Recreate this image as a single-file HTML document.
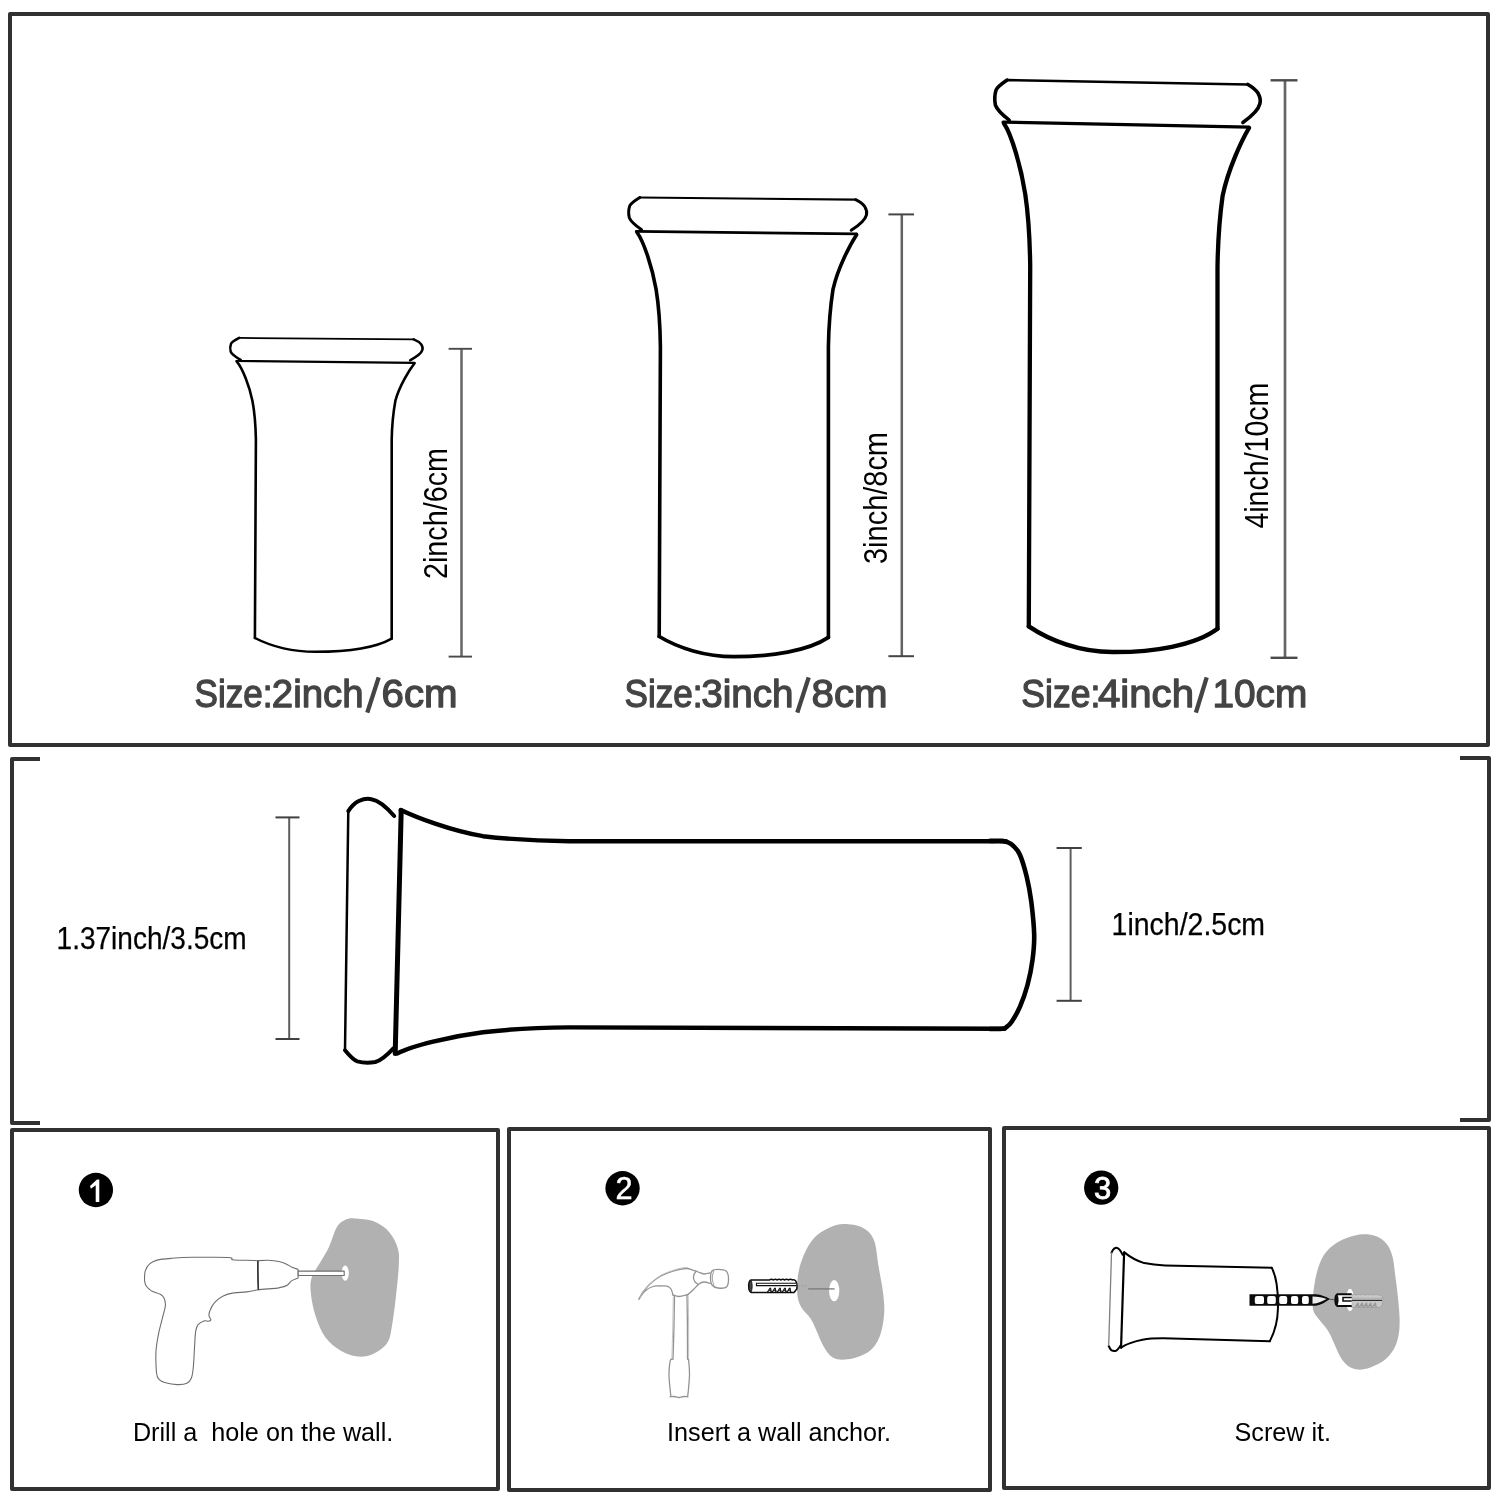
<!DOCTYPE html>
<html lang="en">
<head>
<meta charset="utf-8">
<title>Hook size and installation diagram</title>
<style>
html,body{margin:0;padding:0;background:#fff;}
body{width:1500px;height:1500px;overflow:hidden;font-family:"Liberation Sans", sans-serif;}
svg{display:block;font-family:"Liberation Sans", sans-serif;will-change:transform;}
</style>
</head>
<body>
<svg width="1500" height="1500" viewBox="0 0 1500 1500">
<rect width="1500" height="1500" fill="#fff"/>
<g fill="none" stroke="#313131" stroke-width="4" stroke-linejoin="round">
<rect x="10" y="14" width="1478" height="731"/>
<path d="M40,759 H12 V1123 H40"/>
<path d="M1460,758 H1489 V1120 H1460"/>
<rect x="12" y="1130" width="486" height="359"/>
<rect x="509" y="1129" width="481" height="361"/>
<rect x="1004" y="1128" width="485" height="360"/>
</g>
<path d="M 240.7,359.9 C 236.4,357.4 231.9,354.4 230.7,351.7 C 230.1,349.4 230.1,345.9 231.1,343.5 C 231.9,341.9 234.4,340.4 239.2,337.9" fill="none" stroke="#000" stroke-width="2.5" stroke-linecap="round" stroke-linejoin="round"/>
<path d="M 239.2,337.9 L 413.7,339.4" fill="none" stroke="#000" stroke-width="1.8" stroke-linecap="round" stroke-linejoin="round"/>
<path d="M 413.7,339.4 C 417.4,340.9 419.9,342.7 421.1,344.2 C 422.7,346.4 422.9,348.4 422.4,349.9 C 421.4,353.4 416.4,356.9 410.1,360.3" fill="none" stroke="#000" stroke-width="2.5" stroke-linecap="round" stroke-linejoin="round"/>
<path d="M 236.3,361.0 L 414.5,362.8" fill="none" stroke="#000" stroke-width="2.2" stroke-linecap="round" stroke-linejoin="round"/>
<path d="M 237.0,361.8 C 242.4,367.9 249.4,385.9 252.4,400.7 C 254.2,409.9 255.7,427.9 255.9,439.9 L 254.9,638.0" fill="none" stroke="#000" stroke-width="2.6" stroke-linecap="round" stroke-linejoin="round"/>
<path d="M 414.5,363.3 C 409.4,369.9 399.4,385.9 395.4,400.7 C 393.7,409.9 391.9,427.9 391.7,439.9 L 391.7,638.6" fill="none" stroke="#000" stroke-width="2.6" stroke-linecap="round" stroke-linejoin="round"/>
<path d="M 254.9,638.0 C 270.4,645.9 292.4,651.8 315.4,651.8 C 345.4,651.8 375.4,647.9 391.7,638.6" fill="none" stroke="#000" stroke-width="2.5" stroke-linecap="round" stroke-linejoin="round"/>
<path d="M 641.6,229.7 C 636.3,226.0 630.8,221.6 629.3,217.7 C 628.5,214.3 628.5,209.2 629.8,205.7 C 630.8,203.4 633.8,201.2 639.8,197.5" fill="none" stroke="#000" stroke-width="3.0" stroke-linecap="round" stroke-linejoin="round"/>
<path d="M 639.8,197.5 L 855.6,199.7" fill="none" stroke="#000" stroke-width="2.2" stroke-linecap="round" stroke-linejoin="round"/>
<path d="M 855.6,199.7 C 860.2,201.9 863.3,204.5 864.8,206.7 C 866.8,209.9 867.0,212.9 866.4,215.1 C 865.1,220.2 859.0,225.3 851.2,230.3" fill="none" stroke="#000" stroke-width="3.0" stroke-linecap="round" stroke-linejoin="round"/>
<path d="M 636.2,231.3 L 856.6,233.9" fill="none" stroke="#000" stroke-width="2.8" stroke-linecap="round" stroke-linejoin="round"/>
<path d="M 637.1,232.5 C 643.7,241.4 652.4,267.7 656.1,289.4 C 658.3,302.8 660.2,329.2 660.4,346.7 L 659.2,636.5" fill="none" stroke="#000" stroke-width="3.6" stroke-linecap="round" stroke-linejoin="round"/>
<path d="M 856.6,234.7 C 850.3,244.3 837.9,267.7 833.0,289.4 C 830.9,302.8 828.7,329.2 828.4,346.7 L 828.4,637.4" fill="none" stroke="#000" stroke-width="3.6" stroke-linecap="round" stroke-linejoin="round"/>
<path d="M 659.2,636.5 C 678.4,648.1 705.6,656.7 734.0,656.7 C 771.1,656.7 808.3,651.0 828.4,637.4" fill="none" stroke="#000" stroke-width="3.7" stroke-linecap="round" stroke-linejoin="round"/>
<path d="M 1009.2,120.1 C 1003.3,115.5 997.1,110.0 995.4,105.1 C 994.6,100.9 994.6,94.6 996.0,90.2 C 997.1,87.3 1000.5,84.6 1007.1,80.1" fill="none" stroke="#000" stroke-width="3.6" stroke-linecap="round" stroke-linejoin="round"/>
<path d="M 1007.1,80.1 L 1247.9,84.5" fill="none" stroke="#000" stroke-width="2.6" stroke-linecap="round" stroke-linejoin="round"/>
<path d="M 1247.9,84.5 C 1253.0,87.3 1256.4,90.6 1258.1,93.3 C 1260.3,97.3 1260.6,101.0 1259.9,103.7 C 1258.5,110.1 1251.6,116.4 1242.9,122.5" fill="none" stroke="#000" stroke-width="3.6" stroke-linecap="round" stroke-linejoin="round"/>
<path d="M 1003.1,122.1 L 1249.0,127.1" fill="none" stroke="#000" stroke-width="3.3" stroke-linecap="round" stroke-linejoin="round"/>
<path d="M 1004.1,123.6 C 1011.6,134.7 1021.2,167.5 1025.3,194.5 C 1027.8,211.3 1029.9,244.0 1030.2,265.9 L 1028.8,626.4" fill="none" stroke="#000" stroke-width="4.3" stroke-linecap="round" stroke-linejoin="round"/>
<path d="M 1249.0,128.0 C 1241.9,140.0 1228.1,169.0 1222.6,195.9 C 1220.3,212.6 1217.8,245.4 1217.5,267.2 L 1217.5,628.8" fill="none" stroke="#000" stroke-width="4.3" stroke-linecap="round" stroke-linejoin="round"/>
<path d="M 1028.8,626.4 C 1050.2,640.9 1080.5,651.9 1112.3,652.1 C 1153.6,652.4 1195.0,645.6 1217.5,628.8" fill="none" stroke="#000" stroke-width="4.5" stroke-linecap="round" stroke-linejoin="round"/>
<line x1="461.5" y1="348.8" x2="461.5" y2="656.6" stroke="#666" stroke-width="2.5"/><line x1="448.6" y1="348.8" x2="472" y2="348.8" stroke="#4a4a4a" stroke-width="1.9"/><line x1="448.6" y1="656.6" x2="472" y2="656.6" stroke="#4a4a4a" stroke-width="1.9"/>
<line x1="901.8" y1="214.4" x2="901.8" y2="656.2" stroke="#626262" stroke-width="2.5"/><line x1="888.4" y1="214.4" x2="914" y2="214.4" stroke="#464646" stroke-width="2.0"/><line x1="888.4" y1="656.2" x2="914" y2="656.2" stroke="#464646" stroke-width="2.0"/>
<line x1="1285" y1="80.3" x2="1285" y2="657.8" stroke="#666" stroke-width="2.7"/><line x1="1270.6" y1="80.3" x2="1297.5" y2="80.3" stroke="#4a4a4a" stroke-width="2.4"/><line x1="1270.6" y1="657.8" x2="1297.5" y2="657.8" stroke="#4a4a4a" stroke-width="2.4"/>
<text transform="translate(447,513.5) rotate(-90)" font-size="32.5" text-anchor="middle" textLength="131" lengthAdjust="spacingAndGlyphs" fill="#000">2inch/6cm</text>
<text transform="translate(886.6,498) rotate(-90)" font-size="32.5" text-anchor="middle" textLength="132" lengthAdjust="spacingAndGlyphs" fill="#000">3inch/8cm</text>
<text transform="translate(1268.2,455.6) rotate(-90)" font-size="32.5" text-anchor="middle" textLength="146" lengthAdjust="spacingAndGlyphs" fill="#000">4inch/10cm</text>
<text x="194.6" y="706.6" font-size="39.6" textLength="78" lengthAdjust="spacingAndGlyphs" fill="#444" stroke="#444" stroke-width="1.3" stroke-linejoin="round">Size:</text><text x="271.8" y="706.6" font-size="39.6" textLength="91.8" lengthAdjust="spacingAndGlyphs" fill="#444" stroke="#444" stroke-width="1.3" stroke-linejoin="round">2inch</text><line x1="367.3" y1="712.6" x2="378.7" y2="677.4" stroke="#444" stroke-width="4.3"/><text x="381.5" y="706.6" font-size="39.6" textLength="76.1" lengthAdjust="spacingAndGlyphs" fill="#444" stroke="#444" stroke-width="1.3" stroke-linejoin="round">6cm</text>
<text x="624.6" y="706.6" font-size="39.6" textLength="78" lengthAdjust="spacingAndGlyphs" fill="#444" stroke="#444" stroke-width="1.3" stroke-linejoin="round">Size:</text><text x="701.2" y="706.6" font-size="39.6" textLength="92.4" lengthAdjust="spacingAndGlyphs" fill="#444" stroke="#444" stroke-width="1.3" stroke-linejoin="round">3inch</text><line x1="797.3" y1="712.6" x2="808.7" y2="677.4" stroke="#444" stroke-width="4.3"/><text x="811.5" y="706.6" font-size="39.6" textLength="76.1" lengthAdjust="spacingAndGlyphs" fill="#444" stroke="#444" stroke-width="1.3" stroke-linejoin="round">8cm</text>
<text x="1021.3" y="706.6" font-size="39.6" textLength="79" lengthAdjust="spacingAndGlyphs" fill="#444" stroke="#444" stroke-width="1.3" stroke-linejoin="round">Size:</text><text x="1098" y="706.6" font-size="39.6" textLength="96" lengthAdjust="spacingAndGlyphs" fill="#444" stroke="#444" stroke-width="1.3" stroke-linejoin="round">4inch</text><line x1="1195.9" y1="712.6" x2="1206.7" y2="677.4" stroke="#444" stroke-width="4.3"/><text x="1212.4" y="706.6" font-size="39.6" textLength="94.9" lengthAdjust="spacingAndGlyphs" fill="#444" stroke="#444" stroke-width="1.3" stroke-linejoin="round">10cm</text>
<path d="M 393.4,1048.3 C 387.9,1054.2 381.3,1060.3 375.3,1062.0 C 370.3,1062.8 362.6,1062.8 357.3,1061.4 C 353.8,1060.3 350.5,1056.9 345.0,1050.3" fill="none" stroke="#000" stroke-width="4.0" stroke-linecap="round" stroke-linejoin="round"/>
<path d="M 345.0,1050.3 L 348.3,811.1" fill="none" stroke="#000" stroke-width="2.5" stroke-linecap="round" stroke-linejoin="round"/>
<path d="M 348.3,811.1 C 351.6,806.0 355.6,802.6 358.8,801.0 C 363.7,798.8 368.1,798.5 371.4,799.2 C 379.1,800.5 386.8,807.4 394.2,816.0" fill="none" stroke="#000" stroke-width="4.0" stroke-linecap="round" stroke-linejoin="round"/>
<path d="M395.2,1053.6 L401.2,810.4" fill="none" stroke="#000" stroke-width="5.0" stroke-linecap="round" stroke-linejoin="round"/>
<path d="M 397.5,1053.4 C 410.9,1045.9 450.5,1036.4 483.0,1032.2 C 503.3,1029.8 542.8,1027.7 569.2,1027.4 L 1004.6,1028.8" fill="none" stroke="#000" stroke-width="4.4" stroke-linecap="round" stroke-linejoin="round"/>
<path d="M 400.8,810.0 C 415.3,817.0 450.5,830.7 483.0,836.2 C 503.3,838.5 542.8,841.0 569.2,841.3 L 1005.9,841.3" fill="none" stroke="#000" stroke-width="4.4" stroke-linecap="round" stroke-linejoin="round"/>
<path d="M990.0,840.9 C992.0,840.9 998.7,840.7 1001.7,840.9 C1004.7,841.1 1006.1,841.5 1008.0,842.3 C1009.9,843.1 1011.3,843.7 1013.3,845.8 C1015.3,847.9 1017.8,849.9 1020.0,855.0 C1022.2,860.1 1024.8,868.9 1026.7,876.7 C1028.6,884.5 1030.0,892.0 1031.3,901.7 C1032.5,911.4 1034.0,925.3 1034.2,935.0 C1034.4,944.7 1033.6,951.7 1032.5,960.0 C1031.4,968.3 1029.6,977.2 1027.5,985.0 C1025.4,992.8 1022.6,1000.6 1020.0,1006.7 C1017.4,1012.8 1013.9,1018.4 1011.7,1021.7 C1009.5,1025.0 1008.5,1025.4 1007.0,1026.6 C1005.5,1027.8 1005.3,1028.4 1002.5,1028.8 C999.7,1029.2 992.1,1029.0 990.0,1029.0 " fill="none" stroke="#000" stroke-width="4.6" stroke-linecap="round" stroke-linejoin="round"/>
<line x1="289.2" y1="817.4" x2="289.2" y2="1039" stroke="#5e5e5e" stroke-width="2.0"/><line x1="275.5" y1="817.4" x2="299.5" y2="817.4" stroke="#404040" stroke-width="2.0"/><line x1="275.5" y1="1039" x2="299.5" y2="1039" stroke="#404040" stroke-width="2.0"/>
<line x1="1070.6" y1="848" x2="1070.6" y2="1000.8" stroke="#5e5e5e" stroke-width="2.0"/><line x1="1056.6" y1="848" x2="1081.8" y2="848" stroke="#404040" stroke-width="2.0"/><line x1="1056.6" y1="1000.8" x2="1081.8" y2="1000.8" stroke="#404040" stroke-width="2.0"/>
<text x="56.6" y="949" font-size="31.3" textLength="190" lengthAdjust="spacingAndGlyphs" fill="#000" stroke="#000" stroke-width="0.25">1.37inch/3.5cm</text>
<text x="1111.6" y="934.5" font-size="31.3" textLength="153.5" lengthAdjust="spacingAndGlyphs" fill="#000" stroke="#000" stroke-width="0.25">1inch/2.5cm</text>
<circle cx="95.9" cy="1190" r="17.15" fill="#000"/><path d="M99.3,1179.5 V1202 H95.7 V1185.2 L90.9,1188.8 L90.0,1185.9 L97.0,1179.5 Z" fill="#fff"/>
<circle cx="622.55" cy="1188.25" r="17.15" fill="#000"/><text x="624.0" y="1198.8" font-size="30.7" text-anchor="middle" fill="#fff" stroke="#fff" stroke-width="0.5">2</text>
<circle cx="1101.2" cy="1187.7" r="17.15" fill="#000"/><text x="1102.5" y="1199.3" font-size="31.0" text-anchor="middle" fill="#fff" stroke="#fff" stroke-width="0.8">3</text>
<text x="132.9" y="1441" font-size="25.2" fill="#000" style="white-space:pre">Drill a  hole on the wall.</text>
<text x="667.1" y="1441" font-size="25.2" fill="#000" style="white-space:pre">Insert a wall anchor.</text>
<text x="1234.5" y="1441" font-size="25.2" fill="#000" style="white-space:pre">Screw it.</text>
<path d="M354.3,1218.4 C359.1,1218.6 367.8,1219.0 373.6,1221.3 C379.4,1223.5 385.1,1227.4 389.1,1231.9 C393.1,1236.4 396.2,1242.7 397.8,1248.3 C399.4,1253.9 399.1,1257.6 398.8,1265.7 C398.5,1273.8 397.0,1286.7 395.9,1296.7 C394.8,1306.7 393.4,1318.0 392.0,1325.7 C390.6,1333.4 390.3,1338.4 387.2,1343.1 C384.1,1347.8 378.4,1351.5 373.6,1353.7 C368.8,1356.0 363.7,1357.1 358.2,1356.6 C352.7,1356.1 346.3,1354.0 340.8,1350.8 C335.3,1347.6 329.5,1343.1 325.3,1337.3 C321.1,1331.5 318.0,1323.4 315.6,1316.0 C313.2,1308.6 311.4,1299.2 310.8,1292.8 C310.2,1286.3 310.2,1282.4 311.8,1277.3 C313.4,1272.2 317.6,1267.1 320.5,1261.9 C323.4,1256.8 326.5,1252.2 329.2,1246.4 C331.9,1240.6 334.3,1231.4 336.9,1227.1 C339.5,1222.8 341.7,1221.8 344.6,1220.3 C347.5,1218.8 349.5,1218.2 354.3,1218.4 Z" fill="#b1b1b1"/>
<path d="M844.0,1224.0 C849.6,1224.0 857.7,1225.0 862.7,1227.7 C867.7,1230.4 871.3,1233.5 873.9,1239.9 C876.5,1246.3 877.0,1257.0 878.5,1266.0 C880.0,1275.0 882.3,1285.9 883.2,1294.0 C884.1,1302.1 884.7,1307.3 884.1,1314.5 C883.5,1321.7 882.1,1330.7 879.5,1336.9 C876.9,1343.1 873.6,1348.2 868.3,1351.9 C863.0,1355.6 853.6,1358.4 847.7,1359.3 C841.8,1360.2 836.8,1359.7 832.8,1357.5 C828.8,1355.3 826.3,1351.0 823.5,1346.3 C820.7,1341.6 818.2,1334.2 816.0,1329.5 C813.8,1324.8 812.9,1322.0 810.4,1318.3 C807.9,1314.6 803.3,1311.1 801.1,1307.1 C798.9,1303.0 797.8,1299.6 797.3,1294.0 C796.8,1288.4 797.2,1280.0 798.3,1273.5 C799.4,1267.0 801.3,1260.7 803.9,1254.8 C806.5,1248.9 809.9,1242.5 814.1,1238.0 C818.3,1233.5 824.1,1230.0 829.1,1227.7 C834.1,1225.4 838.4,1224.0 844.0,1224.0 Z" fill="#b1b1b1"/>
<path d="M1362.7,1234.3 C1367.3,1234.2 1373.0,1234.8 1377.0,1236.5 C1381.0,1238.2 1384.3,1240.9 1386.9,1244.2 C1389.5,1247.5 1391.0,1251.2 1392.4,1256.3 C1393.8,1261.4 1394.3,1268.2 1395.2,1275.0 C1396.1,1281.8 1397.2,1289.7 1397.9,1297.0 C1398.6,1304.3 1399.5,1312.6 1399.6,1319.0 C1399.7,1325.4 1399.5,1330.4 1398.5,1335.5 C1397.5,1340.6 1396.0,1345.6 1393.5,1349.8 C1391.0,1354.0 1387.4,1357.9 1383.6,1360.8 C1379.8,1363.7 1374.6,1365.9 1370.4,1367.4 C1366.2,1368.9 1362.0,1369.8 1358.3,1369.6 C1354.6,1369.4 1351.3,1368.3 1348.4,1366.3 C1345.5,1364.3 1343.1,1361.3 1340.7,1357.5 C1338.3,1353.7 1336.3,1347.8 1334.1,1343.2 C1331.9,1338.6 1330.1,1334.0 1327.5,1330.0 C1324.9,1326.0 1321.1,1322.3 1318.7,1319.0 C1316.3,1315.7 1314.2,1313.9 1313.2,1310.2 C1312.2,1306.5 1312.7,1301.8 1313.0,1297.0 C1313.3,1292.2 1314.0,1286.7 1314.9,1281.6 C1315.9,1276.5 1317.0,1271.0 1318.7,1266.2 C1320.4,1261.4 1322.4,1256.8 1325.3,1253.0 C1328.2,1249.2 1332.3,1245.8 1336.3,1243.1 C1340.3,1240.4 1345.1,1238.6 1349.5,1237.1 C1353.9,1235.6 1358.1,1234.4 1362.7,1234.3 Z" fill="#b1b1b1"/>
<ellipse cx="345.2" cy="1273.2" rx="3.6" ry="7.6" fill="#fff"/>
<g fill="#fff" stroke="#6e6e6e" stroke-width="1.1" stroke-linejoin="round">
<path d="M144.5,1280.9 C144.6,1279.3 144.3,1274.2 145.1,1271.3 C146.0,1268.5 147.6,1265.7 149.6,1263.9 C151.6,1262.0 153.3,1261.1 157.1,1260.1 C160.8,1259.2 166.0,1258.8 172.0,1258.3 C178.0,1257.8 186.2,1257.4 193.3,1257.3 C200.4,1257.1 208.4,1257.2 214.7,1257.3 C220.9,1257.3 227.6,1257.3 230.7,1257.7 C233.7,1258.1 230.1,1259.4 232.8,1259.8 C235.5,1260.3 242.5,1260.2 246.7,1260.3 C250.8,1260.5 256.0,1260.6 257.9,1260.7  L258.4,1289.7 C256.4,1290.1 250.8,1291.4 246.7,1291.9 C242.6,1292.5 237.8,1292.2 233.9,1292.9 C230.0,1293.5 226.4,1294.3 223.2,1295.9 C220.0,1297.4 216.9,1299.8 214.7,1302.3 C212.4,1304.8 210.8,1308.5 209.9,1310.8 C208.9,1313.1 208.9,1314.6 209.1,1316.1 C209.3,1317.6 211.1,1319.0 210.9,1319.9 C210.8,1320.7 209.4,1321.1 208.3,1321.3 C207.1,1321.4 205.7,1320.4 204.0,1320.9 C202.3,1321.5 199.5,1323.0 198.1,1324.7 C196.7,1326.4 196.3,1327.5 195.7,1331.1 C195.1,1334.6 195.0,1340.0 194.6,1346.0 C194.2,1352.0 193.9,1362.0 193.3,1367.3 C192.8,1372.7 192.5,1375.3 191.4,1378.0 C190.3,1380.7 189.3,1382.2 186.9,1383.3 C184.6,1384.4 180.9,1384.7 177.3,1384.6 C173.8,1384.5 168.7,1383.7 165.6,1382.8 C162.5,1381.9 160.2,1380.8 158.7,1379.1 C157.2,1377.4 157.0,1377.3 156.5,1372.7 C156.1,1368.0 155.6,1357.9 156.0,1351.3 C156.4,1344.8 157.5,1339.1 158.7,1333.2 C159.8,1327.3 161.8,1320.8 162.9,1316.1 C164.1,1311.5 165.2,1308.5 165.4,1305.5 C165.6,1302.4 164.9,1299.9 164.0,1298.0 C163.1,1296.1 162.3,1295.4 160.3,1294.3 C158.2,1293.1 154.0,1292.4 151.7,1291.1 C149.4,1289.7 147.6,1288.0 146.4,1286.3 C145.2,1284.6 144.8,1281.8 144.5,1280.9  Z"/>
<path d="M257.9,1260.7 C259.6,1260.6 264.5,1260.2 268.0,1260.3 C271.5,1260.5 275.6,1260.9 278.7,1261.5 C281.7,1262.1 284.0,1262.9 286.1,1263.9 C288.3,1264.8 289.5,1266.1 291.5,1267.1 C293.5,1268.0 297.0,1269.0 298.1,1269.4  L298.1,1277.9 C297.0,1278.4 293.3,1279.7 291.5,1280.9 C289.7,1282.1 289.3,1284.0 287.2,1285.2 C285.1,1286.4 281.9,1287.2 278.7,1287.9 C275.5,1288.5 271.4,1288.6 268.0,1288.9 C264.6,1289.2 260.0,1289.6 258.4,1289.7  Z"/>
<rect x="298.2" y="1271.1" width="46" height="4.4"/>
<path d="M257.9,1260.7 C257.7,1270.5 257.9,1280 258.4,1289.7" stroke="#333" stroke-width="1.5" fill="none"/>
</g>
<defs><filter id="b2" x="-10%" y="-10%" width="120%" height="120%"><feGaussianBlur stdDeviation="0.35"/></filter></defs>
<g fill="none" stroke="#939393" stroke-width="1.3" stroke-linejoin="round" stroke-linecap="round" filter="url(#b2)">
<path d="M639.0,1299.0 C639.7,1297.8 641.2,1294.5 643.0,1292.0 C644.8,1289.5 647.2,1286.6 650.0,1284.0 C652.8,1281.4 656.3,1278.6 660.0,1276.5 C663.7,1274.4 668.7,1272.7 672.0,1271.5 C675.3,1270.3 677.5,1269.8 680.0,1269.3 C682.5,1268.8 685.0,1268.4 687.0,1268.5 C689.0,1268.6 690.2,1269.2 692.0,1269.8 C693.8,1270.4 696.0,1271.3 698.0,1272.0 C700.0,1272.7 702.0,1273.8 704.0,1274.0 C706.0,1274.2 709.0,1273.2 710.0,1273.0 "/>
<path d="M639.0,1299.0 C640.0,1297.7 642.7,1293.1 645.0,1291.0 C647.3,1288.9 650.5,1287.3 653.0,1286.5 C655.5,1285.7 657.7,1286.0 660.0,1286.0 C662.3,1286.0 665.2,1285.7 667.0,1286.2 C668.8,1286.7 670.0,1287.5 671.0,1289.0 C672.0,1290.5 672.7,1294.0 673.0,1295.0 "/>
<path d="M673.0,1295.0 C674.0,1295.2 676.5,1296.6 679.0,1296.5 C681.5,1296.4 686.5,1294.8 688.0,1294.5 "/>
<path d="M688.0,1294.5 C689.0,1293.6 692.2,1290.8 694.0,1289.0 C695.8,1287.2 697.3,1285.2 699.0,1284.0 C700.7,1282.8 702.2,1282.1 704.0,1282.0 C705.8,1281.9 709.0,1283.2 710.0,1283.5 "/>
<path d="M696.0,1271.5 C695.7,1272.0 694.4,1273.4 694.0,1274.5 C693.6,1275.6 693.3,1276.8 693.5,1278.0 C693.7,1279.2 694.2,1280.7 695.0,1281.8 C695.8,1282.9 697.5,1284.0 698.0,1284.5 "/>
<path d="M674.5,1296.0 C674.4,1300.8 674.2,1314.5 674.0,1325.0 C673.8,1335.5 673.2,1353.3 673.0,1359.0 "/>
<path d="M687.0,1295.0 C687.1,1300.0 687.3,1314.3 687.4,1325.0 C687.5,1335.7 687.5,1353.3 687.5,1359.0 "/>
<path d="M673.0,1359.0 C672.6,1359.2 671.1,1358.5 670.5,1360.0 C669.9,1361.5 669.5,1365.5 669.3,1368.0 C669.0,1370.5 669.0,1372.5 669.0,1375.0 C669.0,1377.5 669.3,1380.5 669.5,1383.0 C669.7,1385.5 670.0,1387.8 670.2,1390.0 C670.4,1392.2 670.7,1395.0 670.8,1396.0 "/>
<path d="M687.5,1359.0 C687.7,1359.1 688.2,1358.2 688.5,1359.7 C688.8,1361.2 689.1,1365.5 689.3,1368.0 C689.5,1370.5 689.5,1372.5 689.5,1375.0 C689.5,1377.5 689.2,1380.5 689.0,1383.0 C688.8,1385.5 688.6,1387.8 688.4,1390.0 C688.2,1392.2 687.8,1395.0 687.7,1396.0 "/>
<path d="M670.0,1396.8 C670.7,1396.8 672.5,1396.4 674.0,1396.5 C675.5,1396.6 677.3,1397.5 679.0,1397.5 C680.7,1397.5 682.5,1396.6 684.0,1396.5 C685.5,1396.4 687.3,1396.8 688.0,1396.8 "/>
<path d="M673.3,1297.0 C673.2,1301.7 673.0,1314.8 672.8,1325.0 C672.6,1335.2 672.0,1352.9 671.9,1358.5 " stroke="#bdbdbd" stroke-width="0.9"/>
<path d="M688.2,1296.0 C688.3,1300.8 688.5,1314.6 688.6,1325.0 C688.7,1335.4 688.6,1352.9 688.6,1358.5 " stroke="#bdbdbd" stroke-width="0.9"/>
<path d="M640.0,1297.5 C640.7,1296.3 642.2,1293.0 644.0,1290.5 C645.8,1288.0 648.2,1285.3 651.0,1282.8 C653.8,1280.3 657.3,1277.4 661.0,1275.3 C664.7,1273.2 669.7,1271.5 673.0,1270.3 C676.3,1269.1 678.6,1268.6 681.0,1268.1 C683.4,1267.6 686.4,1267.5 687.5,1267.4 " stroke="#bdbdbd" stroke-width="0.9"/>
<path d="M712.0,1271.0 C713.2,1269.5 715.7,1269.3 718.0,1269.3 C720.3,1269.3 724.2,1269.5 726.0,1271.0 C727.8,1272.5 728.4,1275.3 728.5,1278.0 C728.6,1280.7 728.2,1285.3 726.5,1287.0 C724.8,1288.7 720.4,1288.3 718.0,1288.0 C715.6,1287.7 713.2,1286.6 712.0,1285.0 C710.8,1283.4 710.5,1280.8 710.5,1278.5 C710.5,1276.2 710.8,1272.5 712.0,1271.0 Z"/>
<path d="M713.8,1271.0 C713.5,1272.2 712.2,1275.6 712.2,1278.0 C712.2,1280.4 713.7,1284.2 714.0,1285.5 " stroke-width="0.9"/>
</g>
<g>
<ellipse cx="834.2" cy="1290.7" rx="5.1" ry="10.6" fill="#fff"/>
<path d="M808.2,1288.9 H834.6" stroke="#7a7a7a" stroke-width="1.3"/>
<path d="M798.5,1285.9 H806" stroke="#9a9a9a" stroke-width="1" stroke-dasharray="1.6 1.4"/>
<path d="M751,1279.9 H769.5 q1.9,-1.5 3.8,0 q1.9,-1.5 3.8,0 q1.9,-1.5 3.8,0 q1.9,-1.5 3.8,0 q1.9,-1.5 3.8,0 q1.9,-1.5 3.8,0 q2.2,-0.8 3.4,1 C797,1283 797.2,1286.5 796.8,1289 L794,1292.4 H751 C748,1291 747.8,1281.2 751,1279.9 Z" fill="#fff" stroke="#0c0c0c" stroke-width="1.5" stroke-linejoin="round"/>
<path d="M751,1280.2 C748.4,1282 748.4,1290.5 751,1292.2 C752.6,1290 752.6,1282.5 751,1280.2 Z" fill="#444" stroke="#111" stroke-width="0.8"/>
<path d="M796.2,1283.3 H756.4 V1285.6 H796.2" fill="#fff" stroke="#0c0c0c" stroke-width="1.05"/>
<text x="767.2" y="1292.0" font-size="6.2" font-weight="bold" font-style="italic" textLength="24.5" lengthAdjust="spacingAndGlyphs" fill="#000" stroke="#000" stroke-width="0.3">AAAAA</text>
</g>
<ellipse cx="1350" cy="1300" rx="3.9" ry="11.2" fill="#fff"/>
<path d="M1351.7,1295 q2.2,-1.4 4.4,0 q2.2,-1.4 4.4,0 q2.2,-1.4 4.4,0 q2.2,-1.4 4.4,0 q2.2,-1.4 4.4,0 q2.2,-1.4 4.4,0 q3,-0.6 4,1.6 C1383,1298.5 1383,1302 1382.3,1304.5 L1380,1307.4 H1351.7 Z" fill="#c9c9c9" stroke="#a2a2a2" stroke-width="0.9"/>
<path d="M1351.7,1298.3 H1382" stroke="#b5b5b5" stroke-width="1.6"/>
<path d="M1351.7,1300.4 H1382" stroke="#2c2c2c" stroke-width="1.2"/>
<text x="1355.2" y="1306.8" font-size="5" font-weight="bold" font-style="italic" textLength="21.5" lengthAdjust="spacingAndGlyphs" fill="#d6d6d6" stroke="#8a8a8a" stroke-width="0.45">AAAAA</text>
<path d="M1351.7,1294.2 H1337.5 C1334.6,1295.6 1334.6,1304.6 1337.5,1306 H1351.7" fill="#fff" stroke="#0a0a0a" stroke-width="2"/>
<path d="M1337.3,1294.6 C1335,1297 1335,1303.5 1337.3,1305.6 C1339,1303 1339,1297 1337.3,1294.6 Z" fill="#111"/>
<path d="M1351.7,1297.6 H1343 V1300.9 H1351.7" fill="none" stroke="#0a0a0a" stroke-width="1.5"/>
<path d="M1329.5,1299.2 L1334.5,1299.8" stroke="#444" stroke-width="0.9"/>
<g transform="translate(0,-0.8) rotate(1.25 1112 1300.1)">
<path d="M 1121.5,1346.1 C 1120.2,1348.4 1118.6,1350.8 1117.1,1351.4 C 1115.9,1351.8 1114.0,1351.8 1112.7,1351.2 C 1111.8,1350.8 1111.0,1349.5 1109.7,1346.9" fill="none" stroke="#000" stroke-width="2.0" stroke-linecap="round" stroke-linejoin="round"/>
<path d="M0,0" fill="none" stroke="#000" stroke-width="1.6" stroke-linecap="round" stroke-linejoin="round"/>
<path d="M 1110.5,1253.4 C 1111.3,1251.4 1112.3,1250.0 1113.1,1249.4 C 1114.3,1248.5 1115.3,1248.4 1116.1,1248.7 C 1118.0,1249.2 1119.9,1251.9 1121.7,1255.3" fill="none" stroke="#000" stroke-width="2.0" stroke-linecap="round" stroke-linejoin="round"/>
<path d="M 1122.1,1348.4 L 1123.1,1252.9" fill="none" stroke="#000" stroke-width="2.2" stroke-linecap="round" stroke-linejoin="round"/>
<path d="M 1122.5,1348.1 C 1125.8,1345.2 1135.5,1341.4 1143.4,1339.8 C 1148.3,1338.8 1158.0,1338.0 1164.4,1337.9 L 1270.7,1338.5" fill="none" stroke="#000" stroke-width="2.0" stroke-linecap="round" stroke-linejoin="round"/>
<path d="M 1123.3,1252.9 C 1126.9,1255.7 1135.5,1261.0 1143.4,1263.2 C 1148.3,1264.1 1158.0,1265.0 1164.4,1265.1 L 1271.0,1265.1" fill="none" stroke="#000" stroke-width="2.0" stroke-linecap="round" stroke-linejoin="round"/>
<path d="M 1270.7,1338.5 C 1274.9,1330.2 1278.1,1318.4 1278.1,1306.0 C 1278.1,1290.0 1276.0,1273.9 1271.0,1265.1" fill="none" stroke="#000" stroke-width="2.0" stroke-linecap="round" stroke-linejoin="round"/>
<path d="M 1109.7,1346.9 L 1110.5,1253.4" fill="none" stroke="#808080" stroke-width="1.3"/>
</g>
<defs><filter id="b1" x="-20%" y="-50%" width="140%" height="200%"><feGaussianBlur stdDeviation="0.5"/></filter></defs>
<g id="screw">
<path d="M1249.5,1294.2 H1316 C1321,1294.6 1326,1296.6 1330,1298.9 C1326,1301.6 1321,1305 1316,1305.8 H1249.5 Z" fill="#0b0b0b"/>
<g filter="url(#b1)">
<rect x="1254.8" y="1295.9" width="9.2" height="8.2" rx="2.2" fill="#fff"/>
<rect x="1267.2" y="1295.9" width="8.6" height="8.2" rx="2.2" fill="#fff"/>
<rect x="1279.2" y="1295.9" width="8.0" height="8.2" rx="2.2" fill="#fff"/>
<rect x="1291.0" y="1295.9" width="7.2" height="8.2" rx="2.2" fill="#fff"/>
<rect x="1302.0" y="1295.9" width="6.8" height="8.2" rx="2.2" fill="#fff"/>
<path d="M1312.5,1296.4 C1318,1296.5 1323,1297.4 1326.5,1298.9 C1323,1300.8 1318,1303.2 1312.5,1303.8 Z" fill="#ececec"/>
</g></g>
</svg>
</body>
</html>
